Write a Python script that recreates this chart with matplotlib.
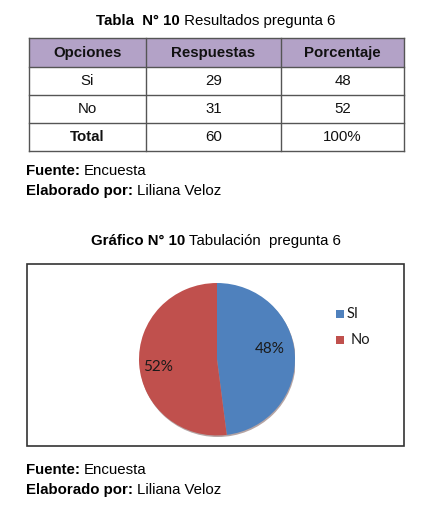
import matplotlib.pyplot as plt
from matplotlib.patches import Rectangle, Ellipse

# table data
columns = ["Opciones", "Respuestas", "Porcentaje"]
options = ["Si", "No", "Total"]
answers = ["29", "31", "60"]
percents = ["48", "52", "100%"]

# pie data
pie_labels = ["SI", "No"]
pie_values = [48, 52]
pie_colors = ["#4F81BD", "#C0504D"]

FONT = "Liberation Sans"
PIE_FONT = "Lato"
FS = 10.8

fig = plt.figure(figsize=(4.25, 5.12), dpi=100)
fig.patch.set_facecolor("white")

# full-figure axes in pixel coords for the page layout
page = fig.add_axes([0, 0, 1, 1])
page.set_xlim(0, 425)
page.set_ylim(512, 0)
page.axis("off")


def centered_title(y, bold, normal):
    # bold + normal parts, centred as a whole
    r = fig.canvas.get_renderer()
    tb = page.text(0, y, bold, fontsize=FS, fontweight="bold", family=FONT, va="center")
    tn = page.text(0, y, normal, fontsize=FS, family=FONT, va="center")
    wb = tb.get_window_extent(r).width
    wn = tn.get_window_extent(r).width
    start = 216 - (wb + wn) / 2
    tb.set_x(start)
    tn.set_x(start + wb)


def source_lines(y):
    r = fig.canvas.get_renderer()
    for i, (b, n) in enumerate([("Fuente: ", "Encuesta"), ("Elaborado por: ", "Liliana Veloz")]):
        yy = y + i * 20
        tb = page.text(26, yy, b, fontsize=FS, fontweight="bold", family=FONT, va="center")
        wb = tb.get_window_extent(r).width
        page.text(26 + wb, yy, n, fontsize=FS, family=FONT, va="center")


centered_title(21, "Tabla  N° 10", " Resultados pregunta 6")

# table
col_x = [29, 146, 281, 404]
row_y = [38, 67, 95, 123, 151]
page.add_patch(Rectangle((col_x[0], row_y[0]), col_x[-1] - col_x[0], row_y[1] - row_y[0],
                         facecolor="#B3A2C7", edgecolor="none"))
for x in col_x:
    page.plot([x, x], [row_y[0], row_y[-1]], color="#555555", lw=1)
for y in row_y:
    page.plot([col_x[0], col_x[-1]], [y, y], color="#555555", lw=1)

rows = [columns] + [[o, a, p] for o, a, p in zip(options, answers, percents)]
for i, row in enumerate(rows):
    yc = (row_y[i] + row_y[i + 1]) / 2
    for j, val in enumerate(row):
        xc = (col_x[j] + col_x[j + 1]) / 2
        bold = i == 0 or (j == 0 and val == "Total")
        page.text(xc, yc, val, ha="center", va="center", fontsize=FS, family=FONT,
                  fontweight="bold" if bold else "normal", color="#111111")

source_lines(171)

centered_title(241, "Gráfico N° 10", " Tabulación  pregunta 6")

# chart box
page.add_patch(Rectangle((27, 264), 377, 182, facecolor="white", edgecolor="#333333", lw=1.2))

source_lines(470)

# pie
cx, cy, rx, ry = 217, 359, 78, 76
ax = fig.add_axes([(cx - rx) / 425, 1 - (cy + ry + 2) / 512, 2 * rx / 425, 2 * (ry + 1) / 512])
ax.set_aspect("auto")
ax.set_xlim(-1, 1)
ax.set_ylim(-1.02, 1)
# faint 3d edge under the pie
ax.add_patch(Ellipse((0.01, -0.02), 2.0, 2.0, facecolor="#6b4a4a", edgecolor="none", alpha=0.5))
wedges, texts = ax.pie(pie_values, colors=pie_colors, startangle=90, counterclock=False,
                       radius=1, wedgeprops=dict(edgecolor="none"))
ax.set_xlim(-1, 1)
ax.set_ylim(-1.02, 1)
ax.set_aspect("auto")
ax.axis("off")
for w, v, pos in zip(wedges, pie_values, [(0.68, 0.14), (-0.76, -0.10)]):
    ax.text(pos[0], pos[1], f"{v}%", ha="center", va="center", fontsize=11,
            family=PIE_FONT, color="#1a1a1a")

# legend
for i, (lab, col) in enumerate(zip(pie_labels, pie_colors)):
    yy = 314 + i * 26
    page.add_patch(Rectangle((336, yy - 4), 8, 8, facecolor=col, edgecolor="none"))
    page.text(347 if i == 0 else 351, yy, lab, fontsize=10.5, family=PIE_FONT, va="center", color="#1a1a1a")

fig.savefig("out.png", dpi=100)
